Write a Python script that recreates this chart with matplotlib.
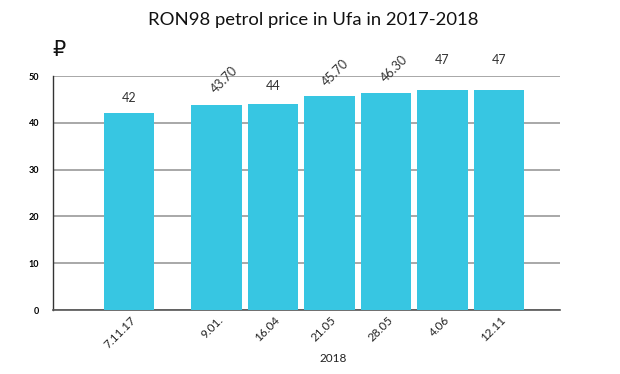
import numpy as np
import matplotlib as mpl
import matplotlib.pyplot as plt

mpl.rcParams.update({
    "font.family": ["Lato", "DejaVu Sans"],
})

DATES = ["7.11.17", "9.01.", "16.04", "21.05", "28.05", "4.06", "12.11"]
PRICES = [42, 43.70, 44, 45.70, 46.30, 47, 47]
LABELS = ["42", "43.70", "44", "45.70", "46.30", "47", "47"]
YTICKS = [0, 10, 20, 30, 40, 50]

# layout: first bar stands apart from the 2018 group
POS = np.array([0, 1.55, 2.55, 3.55, 4.55, 5.55, 6.55])
LABEL_ROT = [0, 45, 0, 45, 45, 0, 0]
LABEL_PAD = [3.3, 5.4, 3.9, 4.9, 5.3, 6.5, 6.5]   # data units above bar top
LABEL_DX = [0, 0.13, 0, 0.11, 0.14, 0, 0]

BAR_COLOR = "#37c6e2"


def main():
    fig = plt.figure(figsize=(6.2, 3.74), dpi=100)
    ax = fig.add_axes([53 / 620, 1 - 310 / 374, (560 - 53) / 620, (310 - 76) / 374])

    ax.bar(POS, PRICES, width=0.89, color=BAR_COLOR, zorder=3)
    ax.set_xlim(-1.345, 7.63)
    ax.set_ylim(0, 50)

    ax.set_yticks(YTICKS)
    ax.set_yticklabels([str(t) for t in YTICKS], fontsize=6.5, fontweight="bold")
    ax.tick_params(axis="y", length=0, pad=10)
    ax.grid(axis="y", color="#9a9a9a", linewidth=1.2, zorder=0)

    ax.set_xticks(POS + 0.02)
    ax.set_xticklabels(DATES, rotation=45, ha="right", va="top",
                       rotation_mode="anchor", fontsize=8.5, color="#222")
    ax.tick_params(axis="x", length=0, pad=3)

    for s in ["top", "right"]:
        ax.spines[s].set_visible(False)
    ax.spines["left"].set_color("#333")
    ax.spines["bottom"].set_color("#555")
    ax.spines["left"].set_linewidth(1.0)
    ax.spines["bottom"].set_linewidth(1.2)

    for x, v, lab, rot, pad, dx in zip(POS, PRICES, LABELS, LABEL_ROT,
                                       LABEL_PAD, LABEL_DX):
        ax.text(x + dx, v + pad, lab, rotation=rot, ha="center", va="center",
                fontsize=9, color="#333", rotation_mode="anchor")

    fig.text(313 / 620, 1 - 20 / 374, "RON98 petrol price in Ufa in 2017-2018",
             ha="center", va="center", fontsize=13.3, color="#111")
    fig.text(59 / 620, 1 - 50 / 374, "\u20bd", ha="center", va="center",
             fontsize=15, color="#111", family=["DejaVu Sans"])
    fig.text(333 / 620, 1 - 358 / 374, "2018", ha="center", va="center",
             fontsize=8.5, color="#222")

    fig.savefig("out.png", dpi=100)


if __name__ == "__main__":
    main()
